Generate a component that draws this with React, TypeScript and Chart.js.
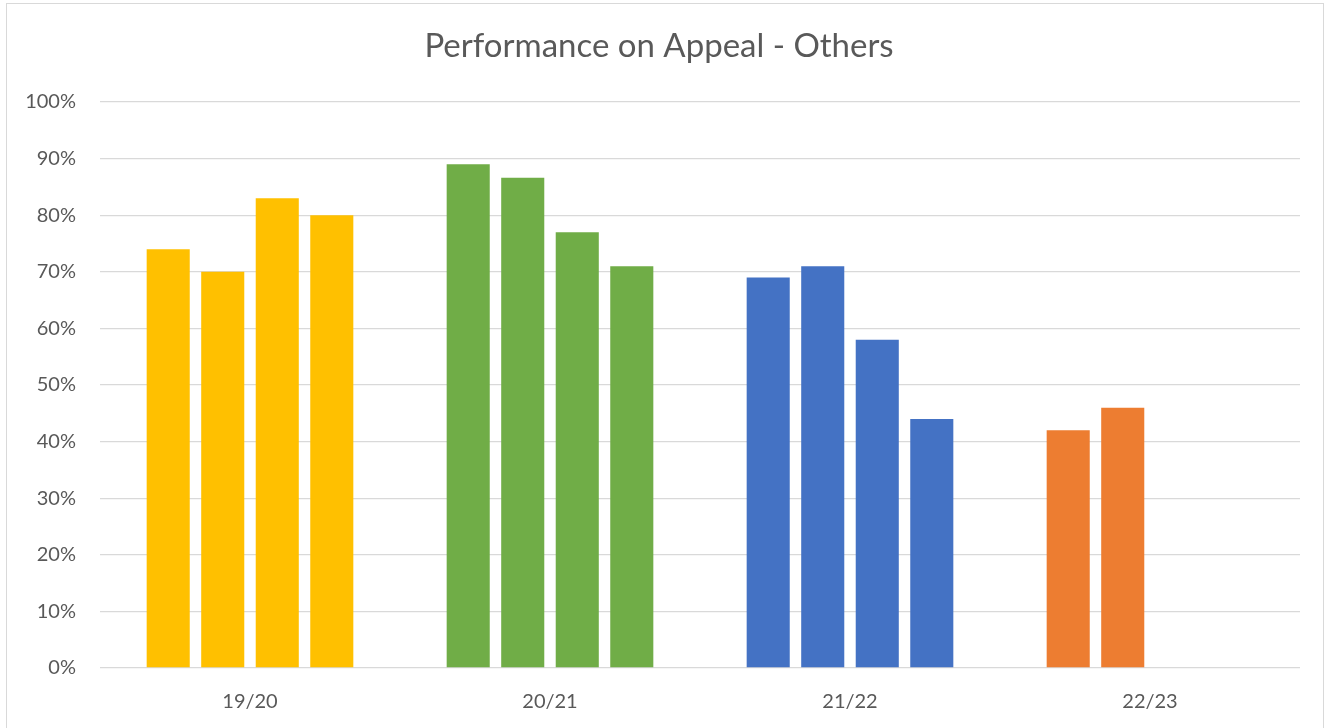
import React, { useEffect, useRef } from "react";
import { Chart, registerables } from "chart.js";

Chart.register(...registerables);

const categories = ["19/20", "20/21", "21/22", "22/23"];
const barColors = ["#FFC000", "#70AD47", "#4472C4", "#ED7D31"];
const quarter1 = [74, 89, 69, 42];
const quarter2 = [70, 86.6, 71, 46];
const quarter3 = [83, 77, 58, null];
const quarter4 = [80, 71, 44, null];
const yTicks = [0, 10, 20, 30, 40, 50, 60, 70, 80, 90, 100];
const titleText = "Performance on Appeal - Others";

const FONT = "Lato, 'Open Sans', sans-serif";
const TEXT = "#595959";

export default function App() {
  const ref = useRef<HTMLCanvasElement>(null);

  useEffect(() => {
    const canvas = ref.current;
    if (!canvas) return;
    const series = [quarter1, quarter2, quarter3, quarter4];
    const chart = new Chart(canvas, {
      type: "bar",
      data: {
        labels: categories,
        datasets: series.map((d, i) => ({
          label: "Q" + (i + 1),
          data: d,
          backgroundColor: barColors,
          borderWidth: 0,
          categoryPercentage: 0.727,
          barPercentage: 0.79,
        })),
      },
      options: {
        responsive: false,
        animation: false,
        devicePixelRatio: 1,
        layout: { padding: { left: 18, right: 32, top: 0, bottom: 0 } },
        plugins: {
          legend: { display: false },
          tooltip: { enabled: false },
          title: {
            display: true,
            text: titleText,
            color: TEXT,
            font: { family: FONT, size: 33, weight: "normal", lineHeight: 1.2 },
            padding: { top: 27, bottom: 35.4 },
          },
        },
        scales: {
          x: {
            grid: { display: false, drawTicks: false },
            border: { display: false },
            ticks: {
              color: TEXT,
              font: { family: FONT, size: 20 },
              padding: 22,
              maxRotation: 0,
            },
            afterFit: (s: any) => {
              s.height = 60;
            },
          },
          y: {
            min: 0,
            max: 100,
            afterBuildTicks: (s: any) => {
              s.ticks = yTicks.map((v) => ({ value: v }));
            },
            grid: { color: "#d9d9d9", lineWidth: 1.3, drawTicks: false },
            border: { display: false },
            ticks: {
              color: TEXT,
              font: { family: FONT, size: 20 },
              padding: 24,
              callback: (v: any) => v + "%",
            },
            afterFit: (s: any) => {
              s.width = 82;
            },
          },
        },
      },
    });
    return () => chart.destroy();
  }, []);

  return (
    <div
      style={{
        position: "fixed",
        left: 0,
        top: 0,
        width: 1332,
        height: 728,
        background: "#fff",
        overflow: "hidden",
      }}
    >
      <div
        style={{
          position: "absolute",
          left: 6,
          top: 3,
          width: 1318,
          height: 760,
          border: "1px solid #d9d9d9",
          boxSizing: "border-box",
        }}
      />
      <canvas
        ref={ref}
        width={1332}
        height={728}
        style={{ position: "absolute", left: 0, top: 0, width: 1332, height: 728 }}
      />
    </div>
  );
}
